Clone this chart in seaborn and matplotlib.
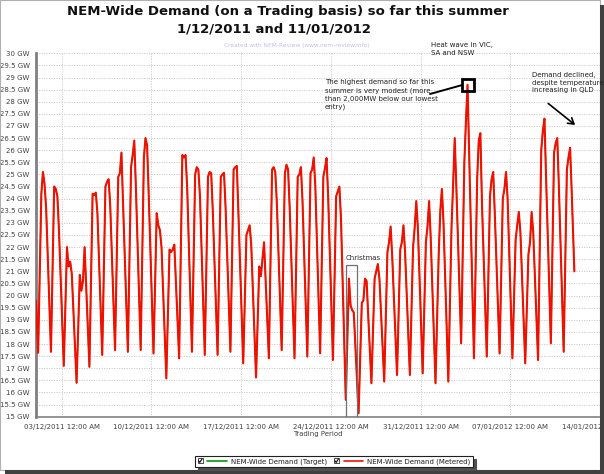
import numpy as np
import pandas as pd
import matplotlib
matplotlib.use("Agg")
import matplotlib.pyplot as plt
import matplotlib.dates as mdates
import seaborn as sns
from matplotlib.patches import Rectangle
from matplotlib.lines import Line2D
from matplotlib.legend_handler import HandlerBase

# ---------------- data (GW) ----------------
days = pd.date_range("2011-12-01", "2012-01-11", freq="D")
hours = [4, 10, 13, 16, 19]

trough_04 = [17.64, 17.68, 17.10, 16.40, 17.06, 17.55, 17.75, 17.68, 17.75, 17.61,
             16.58, 17.41, 17.68, 17.55, 17.55, 17.68, 17.20, 16.62, 17.41, 17.75,
             17.41, 17.48, 17.62, 17.34, 15.70, 15.14, 16.38, 16.45, 16.72, 16.72,
             16.79, 16.38, 16.45, 18.03, 17.41, 17.48, 17.61, 17.41, 17.20, 17.34,
             18.03, 17.68]
demand_10 = [24.20, 24.50, 22.00, 20.85, 24.20, 24.50, 24.90, 25.30, 25.70, 23.40,
             21.90, 25.80, 25.00, 24.90, 24.90, 25.20, 22.50, 21.20, 25.20, 25.05,
             24.90, 25.05, 24.90, 24.10, 20.70, 19.70, 20.70, 21.80, 21.90, 22.00,
             22.20, 21.70, 22.85, 25.50, 24.80, 24.10, 24.00, 22.30, 21.70, 26.00,
             25.90, 25.20]
demand_13 = [25.10, 24.40, 21.20, 20.20, 24.15, 24.70, 25.05, 25.80, 26.50, 22.90,
             21.80, 25.70, 25.30, 25.10, 25.00, 25.30, 22.70, 20.80, 25.30, 25.40,
             25.00, 25.20, 25.25, 24.30, 19.60, 19.80, 21.00, 22.20, 22.20, 22.80,
             22.85, 23.50, 24.60, 27.20, 26.40, 24.80, 24.40, 22.90, 22.20, 26.80,
             26.30, 25.70]
demand_16 = [24.60, 24.10, 21.40, 20.60, 24.25, 24.80, 25.90, 26.40, 26.20, 22.70,
             21.90, 25.80, 25.20, 25.05, 25.07, 25.35, 22.90, 21.50, 25.10, 25.20,
             25.30, 25.70, 25.67, 24.50, 19.40, 20.70, 21.30, 22.85, 22.90, 23.90,
             23.90, 24.40, 26.50, 28.70, 26.70, 25.10, 25.10, 23.45, 23.45, 27.30,
             26.50, 26.10]
demand_19 = [23.60, 22.70, 20.90, 22.00, 23.40, 23.70, 23.80, 24.50, 24.20, 22.00,
             22.10, 24.50, 24.10, 23.50, 23.60, 23.40, 22.10, 22.20, 23.80, 23.60,
             23.90, 24.50, 24.10, 23.20, 19.30, 20.60, 20.70, 21.60, 21.80, 22.80,
             22.40, 23.00, 24.50, 25.90, 23.80, 23.40, 24.00, 22.60, 22.60, 24.90,
             24.50, 24.30]
start_value = 19.8   # 01/12/2011 00:00
end_value = 21.0     # 12/01/2012 00:00

# ---------------- build the series ----------------
times = [days[0]]
vals = [start_value]
for i, d in enumerate(days):
    for h, arr in zip(hours, [trough_04, demand_10, demand_13, demand_16, demand_19]):
        times.append(d + pd.Timedelta(hours=h))
        vals.append(arr[i])
times.append(days[-1] + pd.Timedelta(days=1))
vals.append(end_value)
df = pd.DataFrame({"time": times, "metered": vals, "target": vals})

# ---------------- figure ----------------
W, H = 604, 474
sns.set_style("white")
plt.rcParams["font.family"] = ["DejaVu Sans"]
fig = plt.figure(figsize=(W / 100, H / 100), dpi=100)
fig.patch.set_facecolor("white")

def fx(px):
    return px / W

def fy(py):
    return 1 - py / H

ax = fig.add_axes([fx(36), fy(416.7), fx(600) - fx(36), fy(53.3) - fy(416.7)])

sns.lineplot(data=df, x="time", y="target", ax=ax, color="#00a000", lw=0.9,
             estimator=None, sort=False, zorder=3)
sns.lineplot(data=df, x="time", y="metered", ax=ax, color="#f01000", lw=1.5,
             estimator=None, sort=False, zorder=4)

ax.set_xlim(pd.Timestamp("2011-12-01"), pd.Timestamp("2012-01-14"))
ax.set_ylim(15, 30)

yt = np.arange(15, 30.01, 0.5)
ax.set_yticks(yt)
ax.set_yticklabels([f"{v:g} GW" for v in yt])
major = pd.date_range("2011-12-03", periods=7, freq="7D")
ax.set_xticks(major)
ax.set_xticklabels([d.strftime("%d/%m/%Y") + " 12:00 AM" for d in major])
minor = pd.date_range("2011-12-01 06:00", "2012-01-14", freq="42h")
ax.set_xticks(minor, minor=True)

ax.tick_params(axis="y", labelsize=5, colors="#404040", length=3, width=0.6, pad=1.5)
ax.tick_params(axis="x", which="major", labelsize=5, colors="#404040", length=3, width=0.6, pad=2)
ax.tick_params(axis="x", which="minor", length=2, width=0.6, color="#808080")
ax.set_xlabel("Trading Period", fontsize=5, color="#404040", labelpad=1)
ax.set_ylabel("")

ax.grid(True, which="major", axis="both", color="#c8c8c8", ls=(0, (1.5, 1.5)), lw=0.6)
ax.set_axisbelow(True)
ax.spines["top"].set_visible(False)
ax.spines["left"].set_color("#808080")
ax.spines["left"].set_linewidth(2)
ax.spines["bottom"].set_color("#808080")
ax.spines["bottom"].set_linewidth(1.2)
ax.spines["right"].set_color("#808080")
ax.spines["right"].set_linewidth(0.8)

# ---------------- annotations ----------------
x0 = mdates.date2num(pd.Timestamp("2011-12-25 03:50"))
x1 = mdates.date2num(pd.Timestamp("2011-12-26 01:30"))
ax.add_patch(Rectangle((x0, 15), x1 - x0, 6.25, fill=False, ec="#707070", lw=0.9, zorder=5))
ax.text(x0 + 0.02, 21.55, "Christmas", fontsize=5, color="#303030", ha="left", va="center")

imax = int(np.argmax(df["metered"].values))
ax.plot([df["time"].iloc[imax]], [df["metered"].iloc[imax]], marker="s", ms=8.6,
        mfc="none", mec="black", mew=2, zorder=6)

fig.text(fx(297), fy(45), "Created with NEM-Review (www.nem-review.info)", fontsize=4.2,
         color="#c0c0f0", ha="center", va="center")
fig.text(fx(431), fy(42), "Heat wave in VIC,\nSA and NSW", fontsize=5, color="#202020",
         ha="left", va="top", linespacing=1.45)
fig.text(fx(325), fy(79), "The highest demand so far this\nsummer is very modest (more\n"
         "than 2,000MW below our lowest\nentry)", fontsize=5, color="#202020",
         ha="left", va="top", linespacing=1.4)
fig.text(fx(531.7), fy(72), "Demand declined,\ndespite temperature\nincreasing in QLD",
         fontsize=5, color="#202020", ha="left", va="top", linespacing=1.3)
fig.add_artist(Line2D([fx(430), fx(462.3)], [fy(94), fy(85)], color="black", lw=1.4))
fig.add_artist(matplotlib.patches.FancyArrowPatch((fx(546), fy(101.7)), (fx(577.3), fy(126.7)),
               transform=fig.transFigure, arrowstyle="->,head_length=4,head_width=2.5",
               color="black", lw=1.2))

# ---------------- titles ----------------
fig.text(fx(288), fy(11), "NEM-Wide Demand (on a Trading basis) so far this summer",
         fontsize=9.5, fontweight="bold", ha="center", va="center", color="#101010")
fig.text(fx(274), fy(29), "1/12/2011 and 11/01/2012",
         fontsize=9.5, fontweight="bold", ha="center", va="center", color="#101010")

# ---------------- legend with check boxes ----------------
class CheckHandler(HandlerBase):
    def create_artists(self, legend, orig_handle, xdescent, ydescent, width, height,
                       fontsize, trans):
        s = height * 1.1
        bx = -xdescent
        by = -ydescent + (height - s) / 2
        box = Rectangle((bx, by), s, s, fc="white", ec="#303030", lw=0.6, transform=trans)
        chk = Line2D([bx + 0.2 * s, bx + 0.42 * s, bx + 0.85 * s],
                     [by + 0.5 * s, by + 0.2 * s, by + 0.85 * s],
                     color="black", lw=0.8, transform=trans)
        y = -ydescent + height / 2
        ln = Line2D([bx + s * 1.8, bx + width], [y, y], color=orig_handle.get_color(),
                    lw=1.2, transform=trans)
        return [box, chk, ln]

h1 = Line2D([], [], color="#00a000")
h2 = Line2D([], [], color="#f01000")
leg = fig.legend([h1, h2], ["NEM-Wide Demand (Target)", "NEM-Wide Demand (Metered)"],
                 handler_map={Line2D: CheckHandler()}, loc="center",
                 bbox_to_anchor=(fx(334), fy(461.5)), ncol=2, fontsize=5,
                 frameon=True, fancybox=False, edgecolor="#202020", handlelength=4.2,
                 handletextpad=0.6, columnspacing=1.0, borderpad=0.35,
                 shadow={"color": "#505050", "alpha": 1})
leg.get_frame().set_linewidth(0.8)
for t in leg.get_texts():
    t.set_color("#202020")

# ---------------- outer frame / shadow ----------------
fig.add_artist(Rectangle((0, fy(470)), fx(600), 1 - fy(470), transform=fig.transFigure,
                         fill=False, ec="#b0b0b0", lw=0.8))
fig.add_artist(Rectangle((fx(600), 0), fx(604) - fx(600), fy(5), transform=fig.transFigure,
                         fc="#404040", ec="none"))
fig.add_artist(Rectangle((fx(5), 0), fx(604) - fx(5), fy(470), transform=fig.transFigure,
                         fc="#404040", ec="none"))

fig.savefig("out.png", dpi=100)
